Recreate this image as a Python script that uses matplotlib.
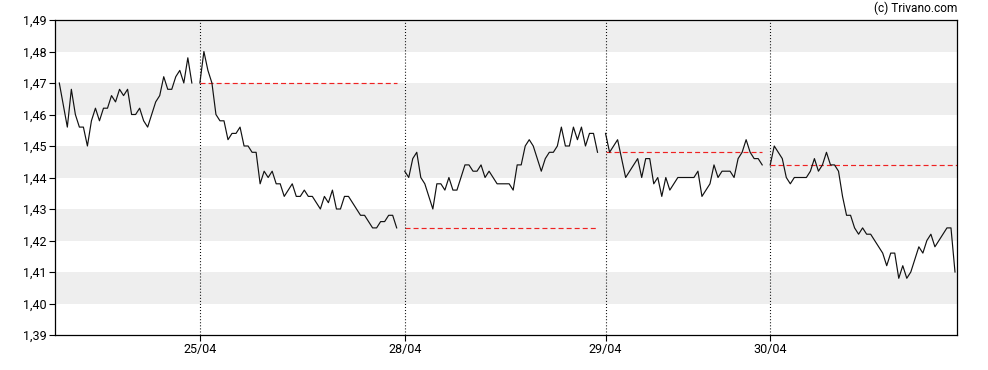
import matplotlib.pyplot as plt

plt.rcParams['font.family'] = ['Roboto', 'DejaVu Sans']
plt.rcParams['lines.scale_dashes'] = False

# ======================
# DATA
# ======================
day_labels = ["24/04", "25/04", "28/04", "29/04", "30/04"]

day1 = [1.470, 1.463, 1.456, 1.468, 1.460, 1.456, 1.456, 1.450, 1.458, 1.462,
        1.458, 1.462, 1.462, 1.466, 1.464, 1.468, 1.466, 1.468, 1.460, 1.460,
        1.462, 1.458, 1.456, 1.460, 1.464, 1.466, 1.472, 1.468, 1.468, 1.472,
        1.474, 1.470, 1.478, 1.470]
day2 = [1.470, 1.480, 1.474, 1.470, 1.460, 1.458, 1.458, 1.452, 1.454, 1.454,
        1.456, 1.450, 1.450, 1.448, 1.448, 1.438, 1.442, 1.440, 1.442, 1.438,
        1.438, 1.434, 1.436, 1.438, 1.434, 1.434, 1.436, 1.434, 1.434, 1.432,
        1.430, 1.434, 1.432, 1.436, 1.430, 1.430, 1.434, 1.434, 1.432, 1.430,
        1.428, 1.428, 1.426, 1.424, 1.424, 1.426, 1.426, 1.428, 1.428, 1.424]
day3 = [1.442, 1.440, 1.446, 1.448, 1.440, 1.438, 1.434, 1.430, 1.438, 1.438,
        1.436, 1.440, 1.436, 1.436, 1.440, 1.444, 1.444, 1.442, 1.442, 1.444,
        1.440, 1.442, 1.440, 1.438, 1.438, 1.438, 1.438, 1.436, 1.444, 1.444,
        1.450, 1.452, 1.450, 1.446, 1.442, 1.446, 1.448, 1.448, 1.450, 1.456,
        1.450, 1.450, 1.456, 1.452, 1.456, 1.450, 1.454, 1.454, 1.448]
day4 = [1.454, 1.448, 1.450, 1.452, 1.446, 1.440, 1.442, 1.444, 1.446, 1.440,
        1.446, 1.446, 1.438, 1.440, 1.434, 1.440, 1.436, 1.438, 1.440, 1.440,
        1.440, 1.440, 1.440, 1.442, 1.434, 1.436, 1.438, 1.444, 1.440, 1.442,
        1.442, 1.442, 1.440, 1.446, 1.448, 1.452, 1.448, 1.446, 1.446, 1.444]
day5 = [1.444, 1.450, 1.448, 1.446, 1.440, 1.438, 1.440, 1.440, 1.440, 1.440,
        1.442, 1.446, 1.442, 1.444, 1.448, 1.444, 1.444, 1.442, 1.434, 1.428,
        1.428, 1.424, 1.422, 1.424, 1.422, 1.422, 1.420, 1.418, 1.416, 1.412,
        1.416, 1.416, 1.408, 1.412, 1.408, 1.410, 1.414, 1.418, 1.416, 1.420,
        1.422, 1.418, 1.420, 1.422, 1.424, 1.424, 1.410]
days = [day1, day2, day3, day4, day5]

y_ticks = [1.39 + 0.01 * i for i in range(11)]
bands = [(1.40, 1.41), (1.42, 1.43), (1.44, 1.45), (1.46, 1.47), (1.48, 1.49)]

# ======================
# PLOT
# ======================
fig = plt.figure(figsize=(9.88, 3.70), dpi=100)
ax = fig.add_axes([55 / 988, 35 / 370, 902 / 988, 315 / 370])

x_left, x_right = -1.07, 223.5
ax.set_xlim(x_left, x_right)
ax.set_ylim(1.39, 1.49)

for lo, hi in bands:
    ax.axhspan(lo, hi, color='#eeeeee', lw=0, zorder=0)

starts = []
pos = 0
for d in days:
    starts.append(pos)
    pos += len(d) + 1

for i, d in enumerate(days):
    xs = [starts[i] + k for k in range(len(d))]
    ax.plot(xs, d, color='#111111', lw=0.85, zorder=3)
    if i > 0:
        end = xs[-1] if i < len(days) - 1 else x_right
        ax.plot([xs[0], end], [days[i - 1][-1]] * 2, color='#ee2222',
                lw=0.85, dashes=(3.6, 2.2), zorder=2)
        ax.axvline(xs[0], color='black', lw=0.8, dashes=(0.7, 1.5), zorder=2)

ax.set_xticks(starts[1:])
ax.set_xticklabels(day_labels[1:])
ax.set_yticks(y_ticks)
ax.set_yticklabels([f"{v:.2f}".replace('.', ',') for v in y_ticks])
ax.tick_params(labelsize=9, length=4.5, width=0.8, color='black', pad=1.5)

for s in ax.spines.values():
    s.set_linewidth(0.9)

fig.text(957 / 988, 1 - 8 / 370, "(c) Trivano.com", ha='right', va='center', fontsize=8.6)

plt.savefig("out.png", dpi=100)
